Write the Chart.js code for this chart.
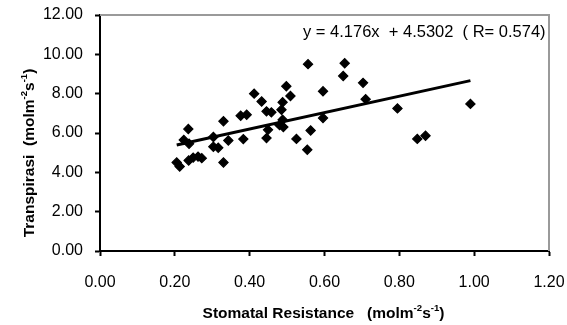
<!DOCTYPE html>
<html>
<head>
<meta charset="utf-8">
<script src="https://cdn.jsdelivr.net/npm/chart.js@4.4.0/dist/chart.umd.min.js"></script>
<style>
  html, body { margin: 0; padding: 0; background: #fff; }
  #wrap { width: 567px; height: 325px; }
</style>
</head>
<body>
<div id="wrap"><canvas id="chart" width="567" height="325"></canvas></div>
<script>
// values
const resistance = [0.205, 0.213, 0.224, 0.236, 0.238, 0.237, 0.249, 0.262, 0.272, 0.303,
  0.303, 0.316, 0.33, 0.33, 0.343, 0.376, 0.392, 0.383, 0.412, 0.432,
  0.445, 0.458, 0.449, 0.445, 0.488, 0.485, 0.488, 0.48, 0.49, 0.498,
  0.509, 0.525, 0.554, 0.556, 0.563, 0.596, 0.596, 0.654, 0.65, 0.703,
  0.71, 0.795, 0.848, 0.87, 0.99];
const transpirasi = [4.5, 4.3, 5.65, 6.2, 5.45, 4.6, 4.75, 4.8, 4.72, 5.3,
  5.8, 5.25, 6.6, 4.5, 5.62, 6.88, 6.93, 5.69, 8.0, 7.6,
  7.1, 7.05, 6.16, 5.74, 7.56, 7.18, 6.67, 6.4, 6.3, 8.38,
  7.88, 5.7, 5.15, 9.5, 6.13, 8.12, 6.76, 9.55, 8.9, 8.55,
  7.72, 7.25, 5.7, 5.86, 7.48];

const slope = 4.176;
const intercept = 4.5302;
const rValue = 0.574;

const xTicks = [0, 0.2, 0.4, 0.6, 0.8, 1.0, 1.2];
const yTicks = [0, 2, 4, 6, 8, 10, 12];

const xTitle = [["Stomatal Resistance   (molm", false], ["-2", true], ["s", false], ["-1", true], [")", false]];
const yTitle = [["Transpirasi  (molm", false], ["-2", true], ["s", false], ["-1", true], [")", false]];
const eqText = "y = " + slope + "x  + " + intercept + "  ( R= " + rValue + ")";

const points = resistance.map((x, i) => ({ x: x, y: transpirasi[i] }));
const xMin = Math.min(...resistance);
const xMax = Math.max(...resistance);
const trend = [xMin, xMax].map(x => ({ x: x, y: slope * x + intercept }));

const FONT = "'Liberation Sans', Arial, sans-serif";

// draws text made of normal and superscript pieces
function drawRich(ctx, parts, size) {
  let total = 0;
  parts.forEach(p => {
    ctx.font = "bold " + (p[1] ? size * 0.62 : size) + "px " + FONT;
    total += ctx.measureText(p[0]).width;
  });
  let x = -total / 2;
  parts.forEach(p => {
    ctx.font = "bold " + (p[1] ? size * 0.62 : size) + "px " + FONT;
    ctx.fillText(p[0], x, p[1] ? -size * 0.38 : 0);
    x += ctx.measureText(p[0]).width;
  });
}

const extras = {
  id: "extras",
  afterDraw(chart) {
    const ctx = chart.ctx;
    const a = chart.chartArea;
    ctx.save();
    // grey plot border on top and right
    ctx.strokeStyle = "#9a9a9a";
    ctx.lineWidth = 2;
    ctx.beginPath();
    ctx.moveTo(a.left, a.top);
    ctx.lineTo(a.right, a.top);
    ctx.lineTo(a.right, a.bottom);
    ctx.stroke();

    ctx.fillStyle = "#000";
    ctx.textBaseline = "middle";
    ctx.textAlign = "left";
    ctx.font = "16.5px " + FONT;
    ctx.fillText(eqText, 303, 32);

    // axis titles
    ctx.save();
    ctx.translate((a.left + a.right) / 2 - 1, 314);
    drawRich(ctx, xTitle, 15.5);
    ctx.restore();

    ctx.save();
    ctx.translate(30, 153);
    ctx.rotate(-Math.PI / 2);
    drawRich(ctx, yTitle, 15.5);
    ctx.restore();
    ctx.restore();
  }
};

function noPad(s) {
  s.paddingLeft = 0;
  s.paddingRight = 0;
  s.paddingTop = 0;
  s.paddingBottom = 0;
}

new Chart(document.getElementById("chart"), {
  type: "scatter",
  data: {
    datasets: [
      {
        label: "data",
        data: points,
        pointStyle: "rectRot",
        pointRadius: 4.6,
        pointBorderWidth: 1.2,
        backgroundColor: "#000",
        borderColor: "#000",
        order: 2
      },
      {
        type: "line",
        label: "trend",
        data: trend,
        borderColor: "#000",
        borderWidth: 3,
        pointRadius: 0,
        fill: false,
        order: 1
      }
    ]
  },
  options: {
    responsive: false,
    animation: false,
    events: [],
    layout: { padding: { top: 15, right: 18, left: 0, bottom: 0 } },
    plugins: {
      legend: { display: false },
      tooltip: { enabled: false }
    },
    scales: {
      x: {
        type: "linear",
        min: 0,
        max: 1.2,
        afterBuildTicks: s => { s.ticks = xTicks.map(v => ({ value: v })); },
        afterFit: s => { s.height = 74; noPad(s); },
        border: { color: "#000", width: 2 },
        grid: { drawOnChartArea: false, drawTicks: true, tickLength: 5, tickColor: "#000", tickWidth: 2 },
        ticks: {
          color: "#000",
          padding: 17,
          maxRotation: 0,
          font: { family: FONT, size: 16 },
          callback: v => Number(v).toFixed(2)
        }
      },
      y: {
        min: 0,
        max: 12,
        afterBuildTicks: s => { s.ticks = yTicks.map(v => ({ value: v })); },
        afterFit: s => { s.width = 100; noPad(s); },
        border: { color: "#000", width: 2 },
        grid: { drawOnChartArea: false, drawTicks: true, tickLength: 5, tickColor: "#000", tickWidth: 2 },
        ticks: {
          color: "#000",
          padding: 12,
          font: { family: FONT, size: 16 },
          callback: v => Number(v).toFixed(2)
        }
      }
    }
  },
  plugins: [extras]
});
</script>
</body>
</html>
